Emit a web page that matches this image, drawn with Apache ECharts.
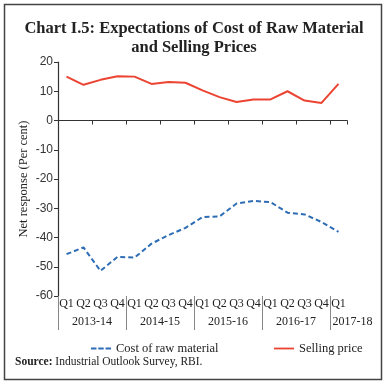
<!DOCTYPE html>
<html><head><meta charset="utf-8">
<script src="https://cdn.jsdelivr.net/npm/echarts@6/dist/echarts.min.js"></script>
<style>html,body{margin:0;padding:0;background:#fff}#c{width:388px;height:387px}</style>
</head><body><div id="c"></div>
<script>
const quarters = ['Q1','Q2','Q3','Q4','Q1','Q2','Q3','Q4','Q1','Q2','Q3','Q4','Q1','Q2','Q3','Q4','Q1'];
const years = ['2013-14','2014-15','2015-16','2016-17','2017-18'];
const quartersPerYear = [4,4,4,4,1];
const costRawMaterial = [-45.7,-43.4,-51.4,-46.6,-46.9,-42.1,-39.2,-36.7,-33.0,-32.8,-28.4,-27.5,-27.9,-31.5,-32.1,-34.7,-38.1];
const sellingPrice = [15.0,12.2,13.9,15.1,15.0,12.5,13.2,12.9,10.3,8.0,6.3,7.2,7.2,10.0,6.8,6.0,12.5];
const yTicks = {min:-60, max:20, interval:10};

// derive year group boundaries and label anchors
const bounds = [0]; const anchors = [];
quartersPerYear.forEach((n, i) => {
  const s = bounds[bounds.length-1];
  // last (partial) group label is left-aligned just after its separator
  anchors.push(i === quartersPerYear.length-1 ? s + 0.15 : s + n/2);
  bounds.push(s + n);
});
const sepTicks = bounds.slice(0, -1);

const chart = echarts.init(document.getElementById('c'));
const serif = 'Liberation Serif';
const sans = 'Liberation Sans';
const dashIcon = 'path://M0,0L6,0L6,2L0,2ZM8,0L14,0L14,2L8,2ZM16,0L22,0L22,2L16,2Z';
const solidIcon = 'path://M0,0L22,0L22,2L0,2Z';
chart.setOption({
  animation:false,
  title:{text:'Chart I.5: Expectations of Cost of Raw Material\nand Selling Prices', left:'center', top:14,
    textStyle:{fontFamily:serif, fontWeight:'bold', fontSize:16.5, lineHeight:19, color:'#222'}},
  grid:{left:58, right:41, top:62, bottom:91, containLabel:false},
  legend:[
    {data:[{name:'Cost of raw material', icon:dashIcon}], left:86, top:337, itemWidth:20, itemHeight:2.2, itemGap:4,
      textStyle:{fontFamily:serif, fontSize:12.5, color:'#222'}},
    {data:[{name:'Selling price', icon:solidIcon}], left:269, top:337, itemWidth:20, itemHeight:2.2,
      textStyle:{fontFamily:serif, fontSize:12.5, color:'#222'}}
  ],
  xAxis:[
    {type:'category', data:quarters, boundaryGap:true, axisLine:{onZero:true, lineStyle:{color:'#333', width:1.2}},
      axisTick:{show:true, length:4, inside:false, lineStyle:{color:'#333'}}, axisLabel:{show:false}, splitLine:{show:false}},
    {type:'category', data:quarters, position:'bottom', boundaryGap:true, axisLine:{show:false, onZero:false}, axisTick:{show:false},
      axisLabel:{show:true, margin:2, fontFamily:serif, fontSize:12, color:'#222', interval:0}},
    {type:'value', min:0, max:quarters.length, position:'bottom', axisLine:{show:false, onZero:false}, splitLine:{show:false},
      axisTick:{show:true, customValues:sepTicks, length:34, lineStyle:{color:'#888'}},
      axisLabel:{show:true, customValues:anchors, margin:20, fontFamily:serif, fontSize:12, color:'#222', alignMaxLabel:'left',
        formatter:(v)=>{const i = anchors.indexOf(v); return i>=0 ? years[i] : '';}}}
  ],
  yAxis:{type:'value', min:yTicks.min, max:yTicks.max, interval:yTicks.interval,
    name:'Net response (Per cent)', nameLocation:'middle', nameGap:28, nameMoveOverlap:false,
    nameTextStyle:{fontFamily:serif, fontSize:12.5, color:'#222'},
    axisLine:{show:true, lineStyle:{color:'#333', width:1.2}}, axisTick:{show:true, length:4, lineStyle:{color:'#333'}},
    axisLabel:{fontFamily:sans, fontSize:12, color:'#333', margin:5}, splitLine:{show:false}},
  series:[
    {name:'Cost of raw material', type:'line', data:costRawMaterial, xAxisIndex:0, showSymbol:false, symbol:'none',
      lineStyle:{color:'#2e6db5', width:2, type:[5,3]}, itemStyle:{color:'#2e6db5'}},
    {name:'Selling price', type:'line', data:sellingPrice, xAxisIndex:0, showSymbol:false, symbol:'none',
      lineStyle:{color:'#ec4432', width:2}, itemStyle:{color:'#ec4432'}}
  ],
  graphic:[
    {type:'rect', shape:{x:4.5, y:4.5, width:377, height:375}, style:{fill:'none', stroke:'#444', lineWidth:1.5}, silent:true},
    {type:'text', left:15, top:356, style:{text:'{b|Source:} Industrial Outlook Survey, RBI.',
      rich:{b:{fontWeight:'bold', fontFamily:serif, fontSize:11.5, fill:'#222'}}, fontFamily:serif, fontSize:11.5, fill:'#222'}}
  ]
});
</script></body></html>
